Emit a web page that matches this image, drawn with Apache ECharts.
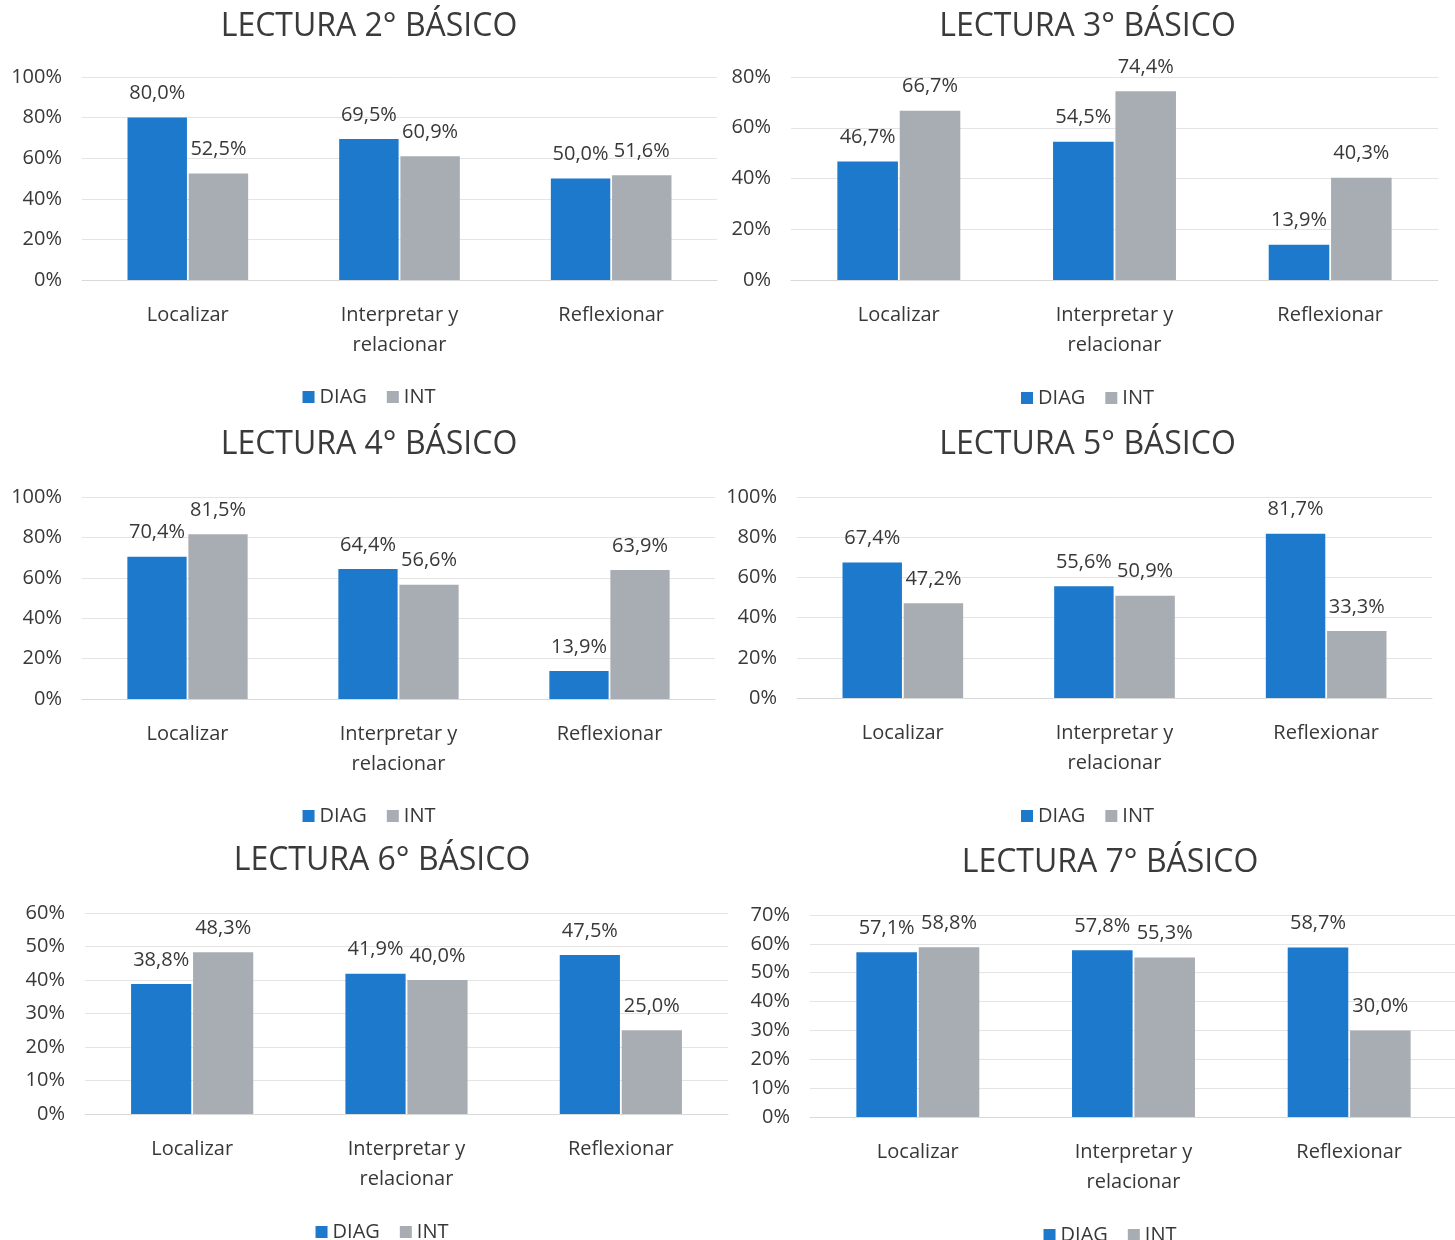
<!DOCTYPE html>
<html>
<head>
<meta charset="utf-8">
<script src="https://cdn.jsdelivr.net/npm/echarts@6/dist/echarts.min.js"></script>
<style>
html,body{margin:0;padding:0;background:#fff;width:1455px;height:1240px;overflow:hidden;position:relative;}
.c{position:absolute;}
</style>
</head>
<body>
<div id="c1" class="c" style="left:0;top:0;width:738px;height:420px"></div>
<div id="c2" class="c" style="left:720px;top:0;width:735px;height:420px"></div>
<div id="c3" class="c" style="left:0;top:420px;width:738px;height:415px"></div>
<div id="c4" class="c" style="left:720px;top:420px;width:735px;height:415px"></div>
<div id="c5" class="c" style="left:0;top:835px;width:764px;height:405px"></div>
<div id="c6" class="c" style="left:740px;top:835px;width:740px;height:405px"></div>
<script>
// ---- data ----
const categories = ['Localizar', 'Interpretar y relacionar', 'Reflexionar'];
const seriesNames = ['DIAG', 'INT'];
const titles = ['LECTURA 2° BÁSICO', 'LECTURA 3° BÁSICO', 'LECTURA 4° BÁSICO', 'LECTURA 5° BÁSICO', 'LECTURA 6° BÁSICO', 'LECTURA 7° BÁSICO'];

const diag2 = [80.0, 69.5, 50.0];
const int2  = [52.5, 60.9, 51.6];
const diag3 = [46.7, 54.5, 13.9];
const int3  = [66.7, 74.4, 40.3];
const diag4 = [70.4, 64.4, 13.9];
const int4  = [81.5, 56.6, 63.9];
const diag5 = [67.4, 55.6, 81.7];
const int5  = [47.2, 50.9, 33.3];
const diag6 = [38.8, 41.9, 47.5];
const int6  = [48.3, 40.0, 25.0];
const diag7 = [57.1, 57.8, 58.7];
const int7  = [58.8, 55.3, 30.0];

const axisMax      = [100, 80, 100, 100, 60, 70];
const axisInterval = [20, 20, 20, 20, 10, 10];

const diagData = [diag2, diag3, diag4, diag5, diag6, diag7];
const intData  = [int2, int3, int4, int5, int6, int7];

// ---- layout (positions only) ----
const layouts = [
  {id:'c1', titleTop:6, gridLeft:82, gridRight:21, gridTop:77, gridH:203, legendTop:382},
  {id:'c2', titleTop:6, gridLeft:71, gridRight:17, gridTop:77, gridH:203, legendTop:383},
  {id:'c3', titleTop:4, gridLeft:82, gridRight:23, gridTop:77, gridH:202, legendTop:381},
  {id:'c4', titleTop:4, gridLeft:77, gridRight:23, gridTop:77, gridH:201, legendTop:381},
  {id:'c5', titleTop:5, gridLeft:85, gridRight:36, gridTop:78, gridH:201, legendTop:382},
  {id:'c6', titleTop:7, gridLeft:70, gridRight:23, gridTop:80, gridH:202, legendTop:385}
];

const FONT = '"Open Sans", "Noto Sans", sans-serif';
const BLUE = '#1c79cc';
const GRAY = '#a8acb3';
const TXT = '#383838';

function fmt(v){ return v.toFixed(1).replace('.', ',') + '%'; }

layouts.forEach((L, i) => {
  const chart = echarts.init(document.getElementById(L.id), null, {renderer:'canvas'});
  const labelCfg = {
    show: true, position: 'top', distance: 14,
    fontFamily: FONT, fontSize: 20, color: TXT,
    formatter: p => fmt(p.value)
  };
  chart.setOption({
    backgroundColor: 'transparent',
    animation: false,
    title: {
      text: titles[i], left: 'center', top: L.titleTop,
      textStyle: {fontFamily: FONT, fontSize: 32, fontWeight: 'normal', color: '#3a3a3a'}
    },
    legend: {
      data: seriesNames, top: L.legendTop, left: 'center',
      icon: 'rect', itemWidth: 12, itemHeight: 12, itemGap: 20,
      textStyle: {fontFamily: FONT, fontSize: 20, color: TXT}
    },
    grid: {left: L.gridLeft, right: L.gridRight, top: L.gridTop, height: L.gridH,
           containLabel: false, outerBoundsMode: 'none'},
    xAxis: {
      type: 'category', data: categories,
      axisTick: {show: false},
      axisLine: {lineStyle: {color: '#d9d9d9', width: 1}},
      axisLabel: {
        fontFamily: FONT, fontSize: 20, color: TXT, margin: 20, lineHeight: 30,
        formatter: v => v.replace(' y ', ' y\n')
      }
    },
    yAxis: {
      type: 'value', min: 0, max: axisMax[i], interval: axisInterval[i],
      axisLine: {show: false}, axisTick: {show: false},
      axisLabel: {fontFamily: FONT, fontSize: 20, color: TXT, margin: 20, formatter: '{value}%'},
      splitLine: {lineStyle: {color: '#e4e4e4', width: 1}}
    },
    series: [
      {name: seriesNames[0], type: 'bar', data: diagData[i], itemStyle: {color: BLUE},
       barGap: '3%', barCategoryGap: '43%', label: labelCfg},
      {name: seriesNames[1], type: 'bar', data: intData[i], itemStyle: {color: GRAY},
       barGap: '3%', barCategoryGap: '43%', label: labelCfg}
    ]
  });
});
</script>
</body>
</html>
